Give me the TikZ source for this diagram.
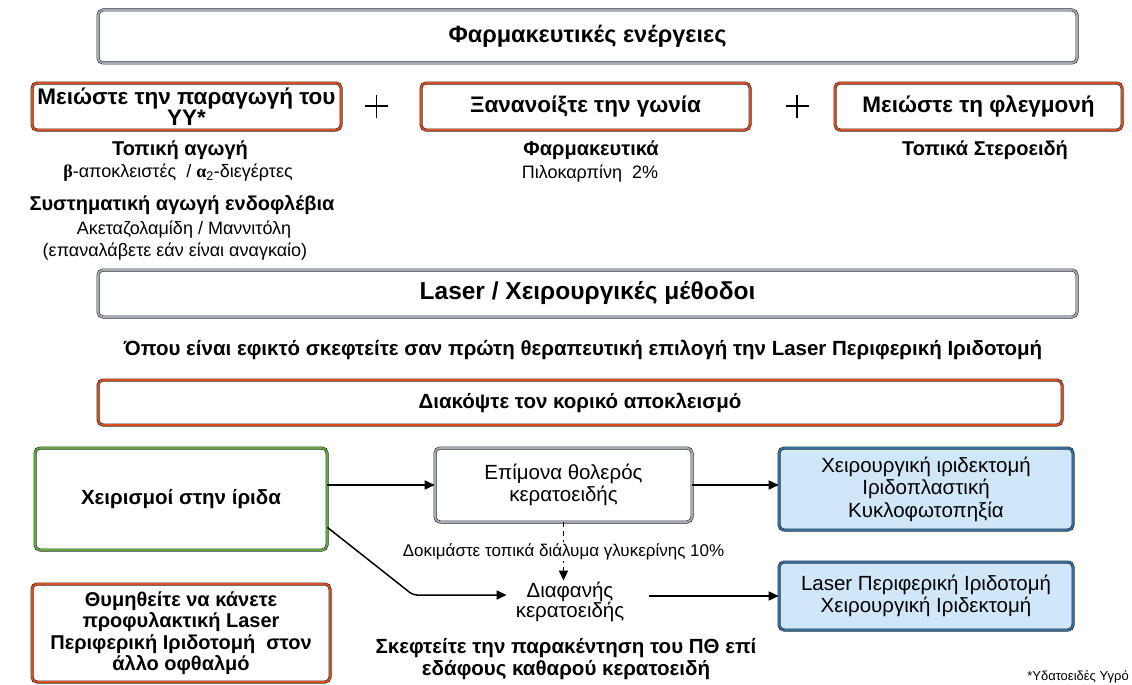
\documentclass[tikz,border=0pt]{standalone}
\usepackage{fontspec}
\setmainfont{Liberation Sans}
\newfontfamily\grserif{Liberation Serif}
\usetikzlibrary{arrows.meta}
\definecolor{edgeorange}{HTML}{DC4B1C}
\definecolor{edgegray}{HTML}{A3ACB6}
\definecolor{edgegreen}{HTML}{5DA83A}
\definecolor{edgeblue}{HTML}{2F6EA5}
\definecolor{fillblue}{HTML}{CFE7F8}
\tikzset{
  frame/.style={rounded corners=5pt, draw=black!85, line width=0.6pt,
    double distance=1.8pt, align=center, inner sep=1pt, fill=white},
  graybox/.style={frame, double=edgegray},
  redbox/.style={frame, double=edgeorange},
  greenbox/.style={frame, double=edgegreen},
  bluebox/.style={frame, double=edgeblue, fill=fillblue},
  fhead/.style={font=\bfseries\fontsize{22.5}{19}\selectfont},
  fsub/.style={font=\bfseries\fontsize{20}{22}\selectfont},
  ftext/.style={font=\fontsize{18}{20}\selectfont},
  fbody/.style={font=\fontsize{20.5}{22.5}\selectfont},
  fbold/.style={font=\bfseries\fontsize{20.5}{22}\selectfont},
  plain/.style={align=center, inner sep=1pt},
  plusline/.style={line width=1.3pt, black},
  arr/.style={-{Triangle[length=10pt,width=9pt]}, line width=1.5pt, black},
}
\begin{document}
\begin{tikzpicture}[x=1pt, y=-1pt]
\useasboundingbox (0,0) rectangle (1132,685);

% pharmacological measures
\node[graybox, font=\bfseries\fontsize{23.5}{26}\selectfont,
  minimum width=979pt, minimum height=53pt] (pharma) at (587.5,36.5)
  {Φαρμακευτικές ενέργειες};

\node[redbox, fhead, minimum width=309pt, minimum height=47pt] (aq) at (186.5,106.5)
  {Μειώστε την παραγωγή του\\ΥΥ*};
\node[redbox, fhead, minimum width=329pt, minimum height=47pt] (angle) at (585.5,106.5)
  {Ξανανοίξτε την γωνία};
\node[redbox, fhead, minimum width=287pt, minimum height=47pt] (infl) at (978.5,106.5)
  {Μειώστε τη φλεγμονή};

% plus signs between the three aims
\draw[plusline] (365,106) -- (388,106) (376.5,94.5) -- (376.5,117.5);
\draw[plusline] (785.5,106) -- (808.5,106) (797,94.5) -- (797,117.5);

\node[plain, fsub] (topical) at (180,150) {Τοπική αγωγή};
\node[plain, ftext] (topdrugs) at (178,173)
  {{\grserif\bfseries β}-αποκλειστές \ / {\grserif\bfseries α}\textsubscript{2}-διεγέρτες};
\node[plain, fsub] (systemic) at (182,205) {Συστηματική αγωγή ενδοφλέβια};
\node[plain, ftext] (sysdrugs) at (184,230) {Ακεταζολαμίδη / Μαννιτόλη};
\node[plain, ftext] (repeat) at (175,252) {(επαναλάβετε εάν είναι αναγκαίο)};

\node[plain, fsub] (drugs) at (591,150) {Φαρμακευτικά};
\node[plain, ftext] (pilo) at (590,174) {Πιλοκαρπίνη \ 2\%};

\node[plain, fsub] (steroids) at (985,150) {Τοπικά Στεροειδή};

% laser and surgical methods
\node[graybox, font=\bfseries\fontsize{24.5}{27}\selectfont,
  minimum width=979pt, minimum height=47pt] (laser) at (587.5,293.5)
  {Laser / Χειρουργικές μέθοδοι};
\node[plain, fbold] (where) at (583,350)
  {Όπου είναι εφικτό σκεφτείτε σαν πρώτη θεραπευτική επιλογή την Laser Περιφερική Ιριδοτομή};

\node[redbox, fbold, minimum width=964pt, minimum height=45pt] (block) at (580,402.5)
  {Διακόψτε τον κορικό αποκλεισμό};

\node[greenbox, fbold, minimum width=292pt, minimum height=102pt] (iris) at (181,499)
  {Χειρισμοί στην ίριδα};
\node[graybox, fbody, minimum width=257pt, minimum height=74pt] (cloudy) at (563.5,485)
  {Επίμονα θολερός\\κερατοειδής};
\node[bluebox, fbody, minimum width=294pt, minimum height=82pt] (surg) at (926,489)
  {Χειρουργική ιριδεκτομή\\Ιριδοπλαστική\\Κυκλοφωτοπηξία};
\node[plain, font=\fontsize{20.5}{19}\selectfont] (clear) at (570,602)
  {Διαφανής\\κερατοειδής};
\node[bluebox, fbody, minimum width=294pt, minimum height=68pt] (lpi) at (926,596)
  {Laser Περιφερική Ιριδοτομή\\Χειρουργική Ιριδεκτομή};

\node[redbox, font=\bfseries\fontsize{20}{21.5}\selectfont,
  minimum width=298pt, minimum height=98pt] (remind) at (181,633)
  {Θυμηθείτε να κάνετε\\προφυλακτική Laser\\Περιφερική Ιριδοτομή \ στον\\άλλο οφθαλμό};

\node[plain, font=\bfseries\fontsize{20.5}{22}\selectfont] (tap) at (566,659)
  {Σκεφτείτε την παρακέντηση του ΠΘ επί\\εδάφους καθαρού κερατοειδή};

\node[plain, font=\fontsize{13}{15}\selectfont] (foot) at (1078,677) {*Υδατοειδές Υγρό};

% connectors
\coordinate (bend) at (413,595);
\draw[arr] (iris.east |- cloudy.west) -- (cloudy.west);
\draw[arr] (cloudy.east) -- (cloudy.east -| surg.west);
\draw[arr, line width=1.3pt, dash pattern=on 5pt off 4pt] (cloudy.south) -- (cloudy.south |- clear.north)
  node[midway, fill=white, inner sep=1pt, font=\fontsize{17}{19}\selectfont] (glyc)
  {Δοκιμάστε τοπικά διάλυμα γλυκερίνης 10\%};
\draw[arr, rounded corners=4pt] ([yshift=23pt]iris.south east) -- (bend) -- ([xshift=-8pt]bend -| clear.west);
\draw[arr] ([xshift=24pt]clear.east |- lpi.west) -- (lpi.west);
\end{tikzpicture}
\end{document}
